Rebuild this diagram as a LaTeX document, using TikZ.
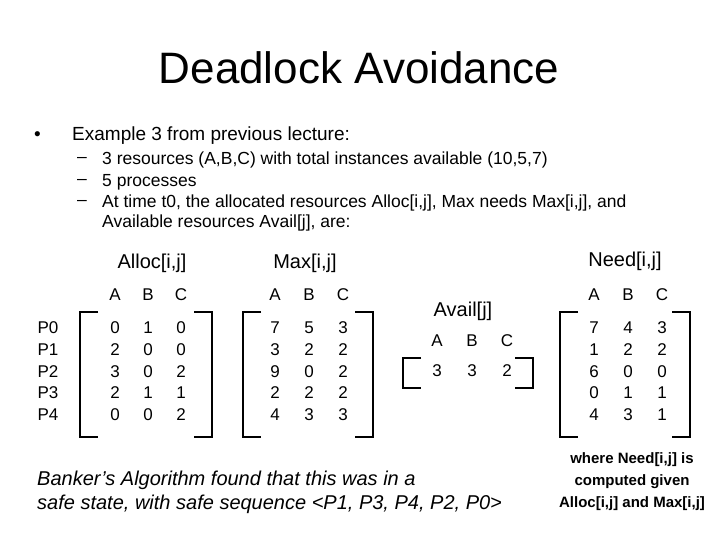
\documentclass[tikz,border=0pt]{standalone}
\usepackage{fontspec}
\setmainfont{Liberation Sans}
\begin{document}
\begin{tikzpicture}[x=1pt,y=-1pt,
  t/.style={inner sep=0pt,text height=0.72em,text depth=0pt,font=\fontsize{17}{20}\selectfont},
  s/.style={inner sep=0pt,anchor=west,font=\fontsize{17.5}{20}\selectfont},
  br/.style={line width=2.6pt}]
\useasboundingbox (0,0) rectangle (720,540);
\node[inner sep=0pt,font=\fontsize{44}{50}\selectfont] (title) at (359,68) {Deadlock Avoidance};
\node[s,font=\fontsize{19}{22}\selectfont] (bul) at (34,136) {\textbullet};
\node[s,font=\fontsize{19}{22}\selectfont] (b0) at (72,136) {Example 3 from previous lecture:};
\foreach \y/\txt [count=\i] in {160/{3 resources (A,B,C) with total instances available (10,5,7)},182/{5 processes},203/{At time t0, the allocated resources Alloc[i,j], Max needs Max[i,j], and}}{
  \node[s] (d\i) at (77,\y) {–};
  \node[s] (s\i) at (102,\y) {\txt};}
\node[s] (s4) at (102,223) {Available resources Avail[j], are:};
\node[t,font=\fontsize{20}{22}\selectfont] (la) at (152,265) {Alloc[i,j]};
\node[t,font=\fontsize{20}{22}\selectfont] (lm) at (305,265) {Max[i,j]};
\node[t,font=\fontsize{20}{22}\selectfont] (ln) at (625,263) {Need[i,j]};
\node[t,font=\fontsize{20}{22}\selectfont] (lv) at (463,313) {Avail[j]};
\foreach \n/\x in {A/0,B/1,C/2}{
  \node[t] (ha\n) at (115+33*\x,297) {\n};
  \node[t] (hm\n) at (275+34*\x,297) {\n};
  \node[t] (hn\n) at (594+34*\x,297) {\n};
  \node[t] (hv\n) at (437+35*\x,343) {\n};}
\foreach \v [count=\i from 0] in {0,1,2,3,4}{
  \node[t] (p\i) at (48,330+21.7*\i) {P\v};}
\foreach \r [count=\i from 0] in {{0,1,0},{2,0,0},{3,0,2},{2,1,1},{0,0,2}}{
  \foreach \v [count=\j from 0] in \r {\node[t] (a\i\j) at (115+33*\j,330+21.7*\i) {\v};}}
\foreach \r [count=\i from 0] in {{7,5,3},{3,2,2},{9,0,2},{2,2,2},{4,3,3}}{
  \foreach \v [count=\j from 0] in \r {\node[t] (m\i\j) at (275+34*\j,330+21.7*\i) {\v};}}
\foreach \r [count=\i from 0] in {{7,4,3},{1,2,2},{6,0,0},{0,1,1},{4,3,1}}{
  \foreach \v [count=\j from 0] in \r {\node[t] (n\i\j) at (594+34*\j,330+21.7*\i) {\v};}}
\foreach \v [count=\j from 0] in {3,3,2}{\node[t] (v\j) at (437+35*\j,373) {\v};}
\foreach \l/\r/\top/\bot in {80/212/312/437, 243/373/312/437, 560/690/312/437, 403/533/358/388}{
  \draw[br] (\l+18,\top) -- (\l,\top) -- (\l,\bot) -- (\l+18,\bot);
  \draw[br] (\r-18,\top) -- (\r,\top) -- (\r,\bot) -- (\r-18,\bot);}
\node[s,font=\fontsize{20}{22}\selectfont\itshape] (k1) at (37,480) {Banker’s Algorithm found that this was in a};
\node[s,font=\fontsize{20}{22}\selectfont\itshape] (k2) at (37,504) {safe state, with safe sequence <P1, P3, P4, P2, P0>};
\node[inner sep=0pt,align=center,font=\fontsize{15}{22}\selectfont\bfseries] (w) at (632,482) {where Need[i,j] is\\computed given\\Alloc[i,j] and Max[i,j]};
\end{tikzpicture}
\end{document}
